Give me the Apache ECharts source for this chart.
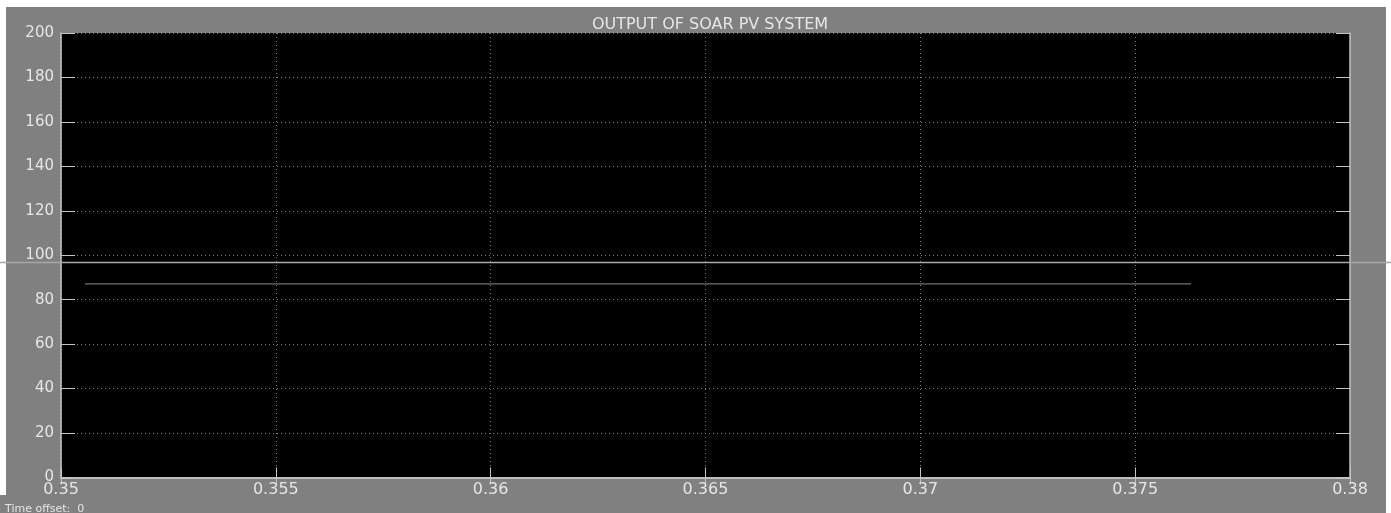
<!DOCTYPE html>
<html>
<head>
<meta charset="utf-8">
<title>OUTPUT OF SOAR PV SYSTEM</title>
<script src="https://cdn.jsdelivr.net/npm/echarts@6/dist/echarts.min.js"></script>
<style>
    html, body { margin: 0; padding: 0; background: #808080; overflow: hidden; }
    .strip { position: absolute; background: #ffffff; }
    #chart { position: absolute; left: 0; top: 0; width: 1391px; height: 513px; }
</style>
</head>
<body>
<div class="strip" style="left:0;top:0;width:1391px;height:7px"></div>
<div class="strip" style="left:0;top:0;width:6px;height:495px"></div>
<div class="strip" style="left:1386px;top:0;width:5px;height:513px"></div>
<div id="chart"></div>
<script>
// Scope readings
const titleText = 'OUTPUT OF SOAR PV SYSTEM';
const xRange = [0.35, 0.38];
const xStep = 0.005;
const yRange = [0, 200];
const yStep = 20;
// PV output trace (time s, value)
const pvOutput = [[0.35056, 87.1], [0.3763, 87.1]];
// reference level drawn across the whole window
const refLevel = 96.7;

const chart = echarts.init(document.getElementById('chart'));

const labelColor = '#e6e6e6';
const boxColor = '#c4c4c4';
const gridColor = '#7a7a7a';
const font = 'DejaVu Sans';

const plot = { left: 61, top: 33, right: 41, bottom: 35.5 };

const option = {
    backgroundColor: 'transparent',
    animation: false,
    title: [{
        text: titleText,
        left: 705,
        top: 12,
        textAlign: 'center',
        textStyle: { color: labelColor, fontSize: 16, fontWeight: 'normal', fontFamily: font }
    }, {
        text: 'Time offset:  0',
        left: 0,
        top: 499,
        textStyle: { color: labelColor, fontSize: 11, fontWeight: 'normal', fontFamily: font }
    }],
    grid: [
        Object.assign({ show: true, backgroundColor: '#000000', borderWidth: 0 }, plot),
        { left: 0, right: 0, top: plot.top, bottom: plot.bottom }
    ],
    xAxis: [{
        gridIndex: 0,
        type: 'value',
        min: xRange[0],
        max: xRange[1],
        interval: xStep,
        axisLine: { show: true, onZero: false, lineStyle: { color: boxColor, width: 1.5 } },
        axisTick: { show: true, inside: true, length: 10, lineStyle: { color: boxColor } },
        axisLabel: {
            color: labelColor, fontSize: 16, fontFamily: font, margin: 4,
            formatter: v => String(parseFloat(v.toFixed(3)))
        },
        splitLine: { show: true, lineStyle: { color: gridColor, type: [1, 3] } }
    }, {
        gridIndex: 0,
        type: 'value',
        position: 'top',
        min: xRange[0],
        max: xRange[1],
        interval: xStep,
        axisLine: { show: true, lineStyle: { color: boxColor, width: 1.5 } },
        axisTick: { show: true, inside: true, length: 7, lineStyle: { color: boxColor } },
        axisLabel: { show: false },
        splitLine: { show: false }
    }, {
        gridIndex: 1,
        type: 'value',
        min: 0,
        max: 1,
        show: false
    }],
    yAxis: [{
        gridIndex: 0,
        type: 'value',
        min: yRange[0],
        max: yRange[1],
        interval: yStep,
        axisLine: { show: true, onZero: false, lineStyle: { color: boxColor, width: 1.5 } },
        axisTick: { show: true, inside: true, length: 14, lineStyle: { color: boxColor } },
        axisLabel: { color: labelColor, fontSize: 15, fontFamily: font, margin: 7 },
        splitLine: { show: true, lineStyle: { color: gridColor, type: [1, 3] } }
    }, {
        gridIndex: 0,
        type: 'value',
        position: 'right',
        min: yRange[0],
        max: yRange[1],
        interval: yStep,
        axisLine: { show: true, lineStyle: { color: boxColor, width: 1.5 } },
        axisTick: { show: true, inside: true, length: 14, lineStyle: { color: boxColor } },
        axisLabel: { show: false },
        splitLine: { show: false }
    }, {
        gridIndex: 1,
        type: 'value',
        min: yRange[0],
        max: yRange[1],
        show: false
    }],
    series: [{
        type: 'line',
        xAxisIndex: 0,
        yAxisIndex: 0,
        data: pvOutput,
        symbol: 'none',
        lineStyle: { color: '#8c8c8c', width: 1 },
        z: 3
    }, {
        type: 'line',
        xAxisIndex: 2,
        yAxisIndex: 2,
        data: [[0, refLevel], [1, refLevel]],
        symbol: 'none',
        lineStyle: { color: '#a8a8a8', width: 1.5 },
        z: 4
    }]
};

chart.setOption(option);
</script>
</body>
</html>
